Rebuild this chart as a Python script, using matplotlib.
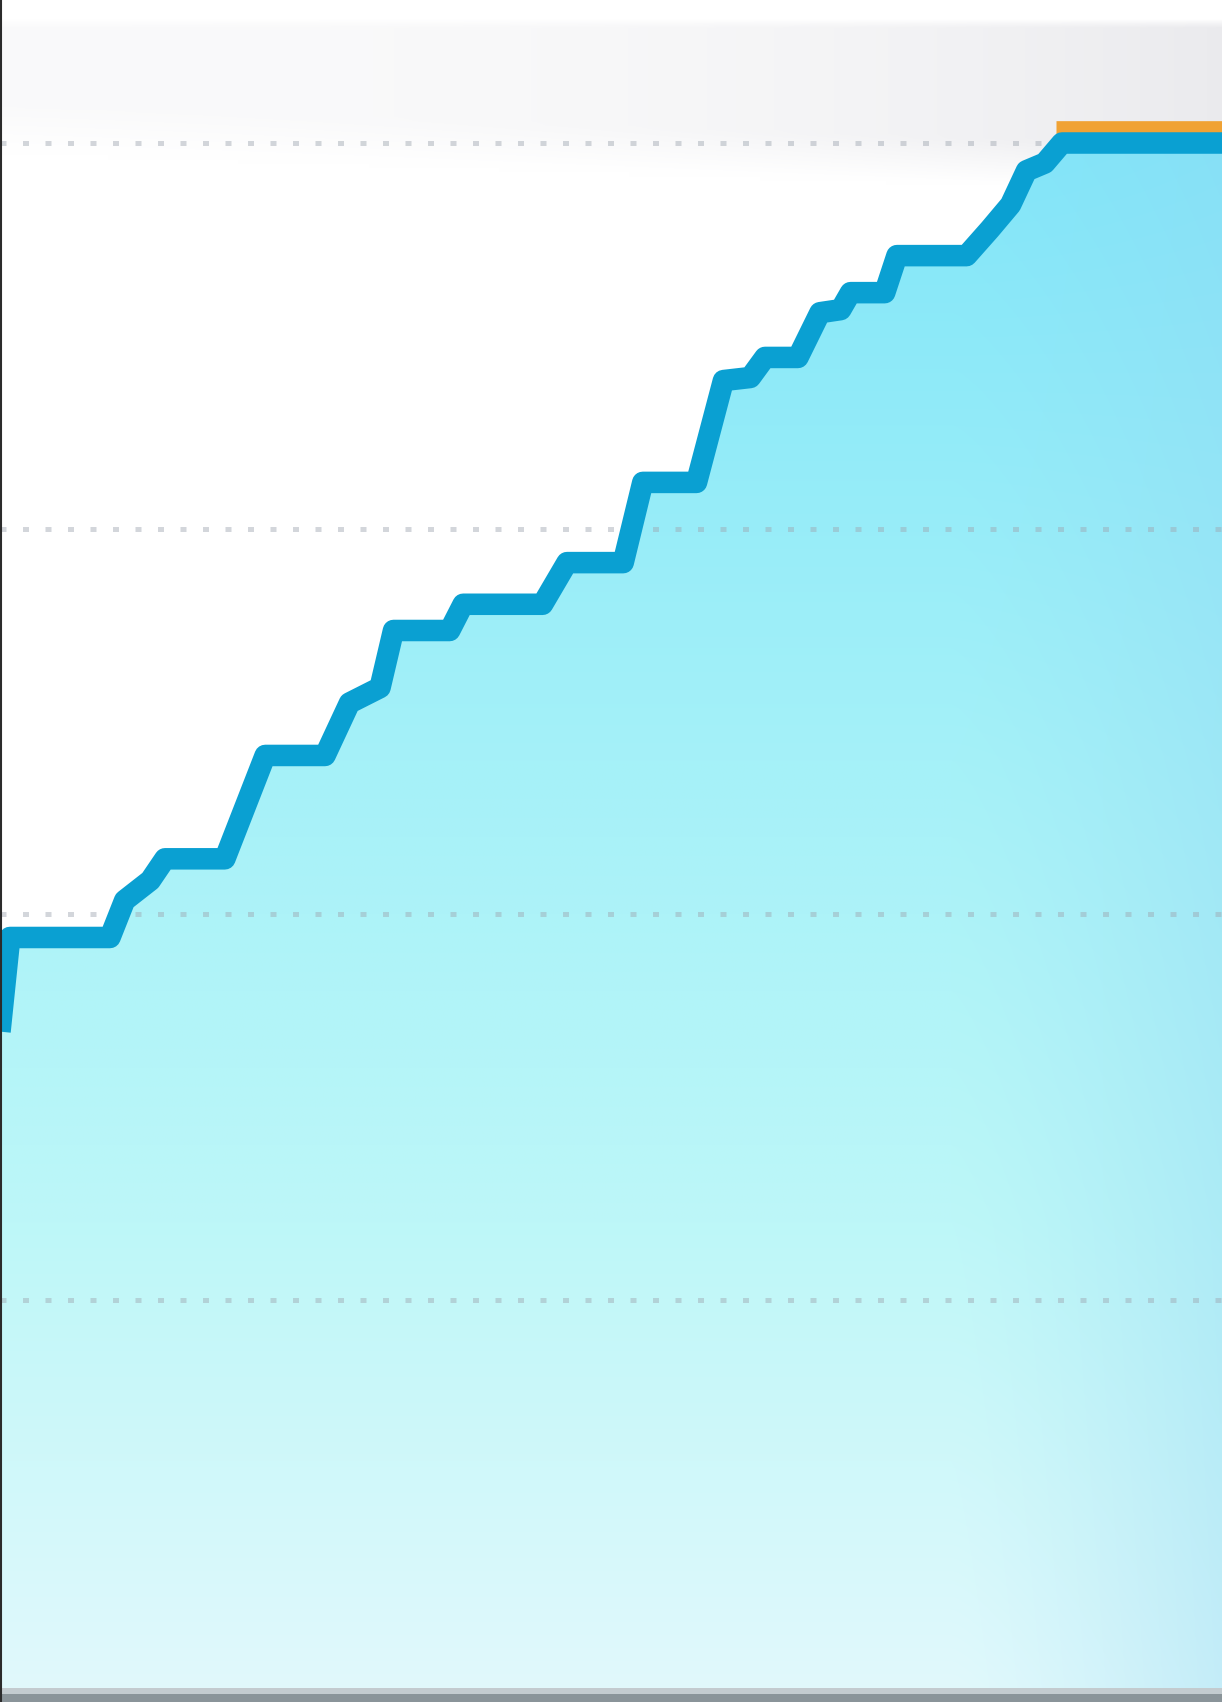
import numpy as np
import matplotlib
matplotlib.use("Agg")
import matplotlib.pyplot as plt
from matplotlib.patches import PathPatch, Rectangle
from matplotlib.lines import Line2D
from matplotlib.colors import to_rgb

# Cumulative progress curve (x: elapsed share of the period, y: value)
progress_x = [0.0, 0.8, 9.0, 10.2, 12.3, 13.5, 18.4, 21.7, 26.6, 28.6, 31.1,
              32.2, 36.8, 37.9, 44.4, 46.4, 51.0, 52.6, 57.0, 59.2, 61.4,
              62.6, 65.3, 67.1, 68.8, 69.6, 72.4, 73.4, 79.1, 81.0, 82.7,
              84.0, 85.5, 86.9, 100.0]
progress_y = [42.4, 48.5, 48.5, 50.9, 52.2, 53.6, 53.6, 60.3, 60.3, 63.7, 64.7,
              68.4, 68.4, 70.1, 70.1, 72.8, 72.8, 78.0, 78.0, 84.6, 84.8,
              86.1, 86.1, 89.0, 89.2, 90.3, 90.3, 92.7, 92.7, 94.4, 96.0,
              98.2, 98.7, 100.0, 100.0]

# Target line, visible only where it sits just above the progress curve
target_x = [86.4, 100.0]
target_y = [100.9, 100.9]

grid_levels = [25, 50, 75, 100]

W_PX, H_PX = 1228, 1702
PLOT_W = 1222
YMIN, YMAX = -1.057, 109.27

fig = plt.figure(figsize=(W_PX / 100, H_PX / 100), dpi=100)
fig.patch.set_facecolor("white")
ax = fig.add_axes([0, 0, PLOT_W / W_PX, 1])
ax.set_xlim(0, 100)
ax.set_ylim(YMIN, YMAX)
ax.set_axis_off()

# Soft grey header band behind the top of the plot
rows, cols = 400, 300
yy = np.linspace(0, H_PX, rows)[:, None]          # pixel row from top
xx = np.linspace(0, 1, cols)[None, :]
band = np.clip((yy - 18) / 6, 0, 1) * np.clip((150 + 40 * xx - yy) / 45, 0, 1)
grey_amt = (0.02 + 0.06 * xx ** 2.5) * band
bg = np.ones((rows, cols, 3)) - grey_amt[..., None] * np.array([1.0, 1.0, 0.85])
ax.imshow(bg, extent=(0, 100, YMIN, YMAX), aspect="auto", origin="upper",
          zorder=0, interpolation="bilinear")

# Gradient fill under the curve
stops_v = np.array([YMIN, 30, 60, 100, YMAX])
stops_c = np.array([to_rgb(c) for c in
                    ["#e2f9fc", "#bdf7f8", "#a5f1f8", "#82e6f9", "#7ee3f9"]])
vv = np.linspace(YMAX, YMIN, rows)
col = np.stack([np.interp(vv, stops_v, stops_c[:, k]) for k in range(3)], axis=-1)
grad = np.repeat(col[:, None, :], cols, axis=1)
xs = np.linspace(0, 100, cols)
right_mix = np.clip((xs - 78) / 22, 0, 1) ** 1.3 * 0.35
edge = np.array(to_rgb("#8fd6f2"))
grad = grad * (1 - right_mix[None, :, None]) + edge * right_mix[None, :, None]

area = ax.fill_between(progress_x, progress_y, YMIN, color="none", lw=0)
clip = PathPatch(area.get_paths()[0], transform=ax.transData,
                 facecolor="none", edgecolor="none")
ax.add_patch(clip)
im = ax.imshow(grad, extent=(0, 100, YMIN, YMAX), aspect="auto",
               origin="upper", zorder=1, interpolation="bilinear")
im.set_clip_path(clip)

# Dotted horizontal grid
for g in grid_levels:
    ax.axhline(g, color="#9ea6b0", alpha=0.45, lw=3.6,
               ls=(0, (1.2, 3.3)), zorder=2)

# Target and progress lines
ax.plot(target_x, target_y, color="#f0a234", lw=12, solid_capstyle="butt",
        zorder=3)
ax.plot(progress_x, progress_y, color="#0aa0d2", lw=15.5,
        solid_joinstyle="round", solid_capstyle="butt", zorder=4)

# Frame: thin dark left edge and grey baseline bar
fig.add_artist(Line2D([0.0008, 0.0008], [0, 1], transform=fig.transFigure,
                      color="#2b2b2b", lw=1.5))
fig.add_artist(Rectangle((0, 0), PLOT_W / W_PX, 14 / H_PX,
                         transform=fig.transFigure, color="#c3cbcf", lw=0))
fig.add_artist(Rectangle((0, 0), PLOT_W / W_PX, 8 / H_PX,
                         transform=fig.transFigure, color="#8a9499", lw=0))

fig.savefig("out.png", dpi=100)
